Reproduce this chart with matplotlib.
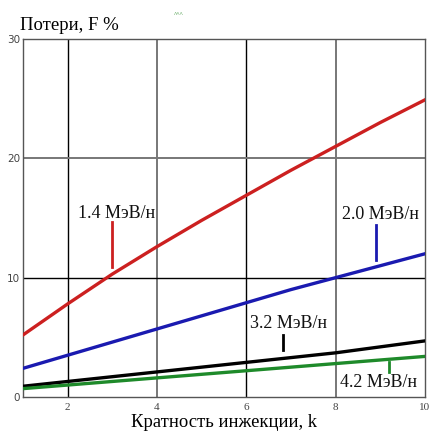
import matplotlib.pyplot as plt

# Data
k = [1, 2, 3, 4, 5, 6, 7, 8, 9, 10]
loss_14 = [5.2, 7.8, 10.3, 12.6, 14.8, 16.9, 19.0, 21.0, 23.0, 24.9]
loss_20 = [2.4, 3.5, 4.6, 5.7, 6.8, 7.9, 9.0, 10.0, 11.0, 12.0]
loss_32 = [0.9, 1.3, 1.7, 2.1, 2.5, 2.9, 3.3, 3.7, 4.2, 4.7]
loss_42 = [0.7, 1.0, 1.3, 1.6, 1.9, 2.2, 2.5, 2.8, 3.1, 3.4]

labels = ["1.4 МэВ/н", "2.0 МэВ/н", "3.2 МэВ/н", "4.2 МэВ/н"]
colors = ["#cc2020", "#1a1ab0", "#000000", "#1e8a2a"]
x_ticks = [2, 4, 6, 8, 10]
y_ticks = [0, 10, 20, 30]

# label anchor (x, y of text centre-left), leader line (x, y0, y1)
label_pos = [(2.24, 15.4), (8.15, 15.3), (6.09, 6.2), (8.1, 1.25)]
leader = [(3.0, 10.9, 14.7), (8.91, 11.5, 14.4), (6.83, 3.9, 5.2), (9.2, 2.9, 2.1)]


def main():
    plt.rcParams['font.family'] = ['Liberation Serif', 'DejaVu Serif']
    fig = plt.figure(figsize=(4.3, 4.34), dpi=100)
    ax = fig.add_axes([0.0535, 0.0853, 0.9345, 0.8247])

    # grid lines
    for xv, c in [(2, "black"), (4, "#777777"), (6, "black"), (8, "#777777")]:
        ax.axvline(xv, color=c, lw=1.0 if c == "black" else 1.4, zorder=1)
    ax.axhline(10, color="black", lw=1.0, zorder=1)
    ax.axhline(20, color="#777777", lw=1.4, zorder=1)

    for ys, c in zip([loss_14, loss_20, loss_32, loss_42], colors):
        ax.plot(k, ys, color=c, lw=2.4, zorder=3)

    for (tx, ty), (lx, ly0, ly1), lab, c in zip(label_pos, leader, labels, colors):
        ax.text(tx, ty, lab, fontsize=13, color="#111111", va="center", zorder=4)
        ax.plot([lx, lx], [ly0, ly1], color=c, lw=2.0, zorder=4)

    ax.set_xlim(1, 10)
    ax.set_ylim(0, 30)
    ax.set_xticks(x_ticks, labels=[str(v) for v in x_ticks], fontsize=8)
    ax.set_yticks(y_ticks, labels=[str(v) for v in y_ticks],
                  fontsize=7.5, fontfamily="DejaVu Sans")
    ax.tick_params(length=0, colors="#444444")
    ax.tick_params(axis="x", pad=4)
    ax.tick_params(axis="y", pad=2)
    for s in ax.spines.values():
        s.set_color("#555555")
        s.set_linewidth(1.0)

    ax.set_xlabel("Кратность инжекции, k", fontsize=13.4, labelpad=2)
    fig.text(0.046, 0.942, "Потери, F %", fontsize=13.5, va="center")
    fig.text(0.405, 0.962, "^^^", fontsize=5, color="#2a8a2a")

    fig.savefig("out.png", dpi=100)


if __name__ == "__main__":
    main()
